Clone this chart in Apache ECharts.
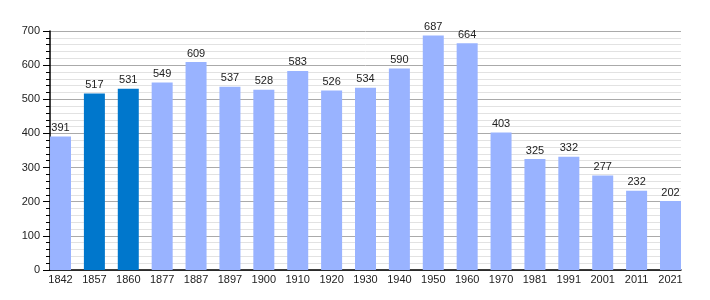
<!DOCTYPE html>
<html>
<head>
<meta charset="utf-8">
<script src="https://cdn.jsdelivr.net/npm/echarts@6/dist/echarts.min.js"></script>
<style>html,body{margin:0;padding:0;background:#fff}#c{width:710px;height:300px}</style>
</head>
<body>
<div id="c"></div>
<script>
const categories = ['1842','1857','1860','1877','1887','1897','1900','1910','1920','1930','1940','1950','1960','1970','1981','1991','2001','2011','2021'];
const population = [391,517,531,549,609,537,528,583,526,534,590,687,664,403,325,332,277,232,202];
const highlighted = ['1857','1860'];
const yTicks = [0,100,200,300,400,500,600,700];

const chart = echarts.init(document.getElementById('c'), null, {renderer:'canvas'});
const font = '"Liberation Sans", Arial, sans-serif';
chart.setOption({
  animation: false,
  backgroundColor: '#fff',
  grid: {left: 50, right: 29, top: 31, bottom: 30, containLabel: false},
  xAxis: {
    type: 'value', min: -0.31, max: categories.length - 1 + 0.31,
    splitLine: {show: false},
    axisLine: {show: true, onZero: false, lineStyle: {color: '#000', width: 1.5}},
    axisTick: {show: false},
    axisLabel: {
      customValues: categories.map((c, i) => i),
      formatter: v => categories[Math.round(v)],
      color: '#222', fontSize: 11, fontFamily: font, margin: 4
    }
  },
  yAxis: {
    type: 'value', min: 0, max: 700, interval: 100,
    axisLine: {show: true, onZero: false, lineStyle: {color: '#000', width: 1.5}},
    axisTick: {show: true, inside: false, length: 7, lineStyle: {color: '#000'}},
    minorTick: {show: true, splitNumber: 5, length: 4, lineStyle: {color: '#000'}},
    splitLine: {show: true, lineStyle: {color: '#aaaaaa', width: 1}},
    minorSplitLine: {show: true, lineStyle: {color: '#e2e2e2', width: 1}},
    axisLabel: {color: '#222', fontSize: 11, fontFamily: font, margin: 10}
  },
  series: [{
    type: 'bar',
    barWidth: 21,
    data: population.map((v, i) => ({
      value: [i, v],
      itemStyle: {color: highlighted.includes(categories[i]) ? '#0077cc' : '#99b3ff'}
    })),
    label: {show: true, position: 'top', distance: 3, color: '#222', fontSize: 11, fontFamily: font,
      formatter: p => p.value[1]}
  }]
});
</script>
</body>
</html>
